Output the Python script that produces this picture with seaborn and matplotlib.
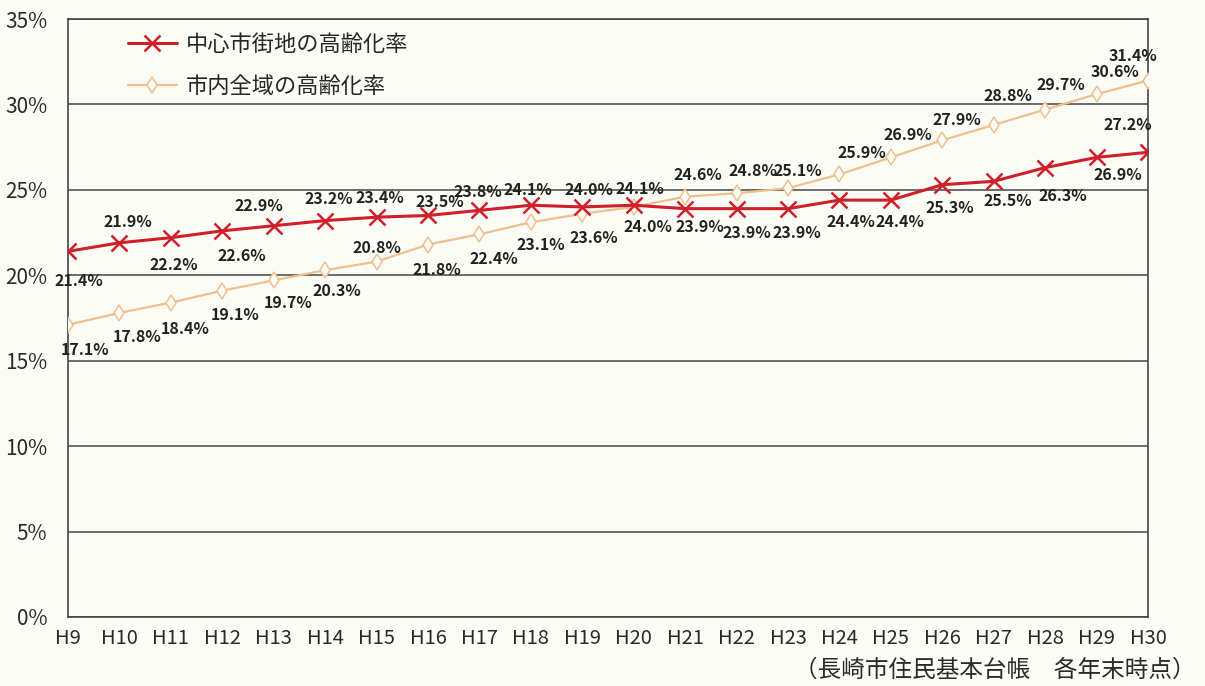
import matplotlib
matplotlib.use('Agg')

import matplotlib.pyplot as plt
from matplotlib.ticker import FuncFormatter
import seaborn as sns
import pandas as pd

# 年度（平成）
years = ["H9", "H10", "H11", "H12", "H13", "H14", "H15", "H16", "H17", "H18", "H19",
         "H20", "H21", "H22", "H23", "H24", "H25", "H26", "H27", "H28", "H29", "H30"]

# 中心市街地の高齢化率 (%)
center_rate = [21.4, 21.9, 22.2, 22.6, 22.9, 23.2, 23.4, 23.5, 23.8, 24.1, 24.0,
               24.1, 23.9, 23.9, 23.9, 24.4, 24.4, 25.3, 25.5, 26.3, 26.9, 27.2]

# 市内全域の高齢化率 (%)
city_rate = [17.1, 17.8, 18.4, 19.1, 19.7, 20.3, 20.8, 21.8, 22.4, 23.1, 23.6,
             24.0, 24.6, 24.8, 25.1, 25.9, 26.9, 27.9, 28.8, 29.7, 30.6, 31.4]

center_name = "中心市街地の高齢化率"
city_name = "市内全域の高齢化率"
note = "（長崎市住民基本台帳　各年末時点）"

# ラベル位置（点からのずれ, px, 下向きが正）
center_off = [(11, 30), (8, -21), (3, 27), (20, 25), (-15, -20), (4, -22), (3, -19),
              (12, -13), (-2, -18), (-3, -15), (7, -17), (6, -16), (15, 18), (10, 24),
              (9, 24), (12, 22), (9, 22), (8, 23), (14, 20), (18, 28), (21, 18), (-20, -27)]
city_off = [(17, 25), (18, 24), (14, 26), (13, 24), (14, 23), (12, 21), (0, -14),
            (9, 25), (14, 25), (10, 23), (12, 24), (14, 20), (13, -22), (16, -22),
            (10, -17), (22, -21), (17, -22), (15, -20), (14, -29), (16, -25), (18, -22), (-15, -25)]

RED = "#cf1f2a"
TAN = "#efbf8c"
BG = "#fcfcf7"
GRID = "#454545"

sns.set_theme(style="white")
plt.rcParams['font.family'] = ['Noto Sans CJK JP', 'DejaVu Sans']

df = pd.DataFrame({"x": range(len(years)), "center": center_rate, "city": city_rate})

fig, ax = plt.subplots(figsize=(12.05, 6.86), dpi=100)
fig.patch.set_facecolor(BG)
ax.set_facecolor(BG)
fig.subplots_adjust(left=0.0564, right=0.9527, bottom=0.1006, top=0.9723)

sns.lineplot(data=df, x="x", y="city", ax=ax, color=TAN, linewidth=1.6,
             marker="d", markersize=8.5, markerfacecolor=BG, markeredgecolor=TAN,
             markeredgewidth=1.1, label=city_name, zorder=3)
sns.lineplot(data=df, x="x", y="center", ax=ax, color=RED, linewidth=2.2,
             marker="x", markersize=12, markeredgecolor=RED, markeredgewidth=1.8,
             label=center_name, zorder=4)

ax.set_xlim(0, len(years) - 1)
ax.set_ylim(0, 35)
ax.set_xticks(range(len(years)))
ax.set_xticklabels(years)
ax.set_yticks(range(0, 36, 5))
ax.yaxis.set_major_formatter(FuncFormatter(lambda v, p: f"{v:.0f}%"))
ax.set_xlabel("")
ax.set_ylabel("")

ax.yaxis.grid(True, color=GRID, linewidth=1.1)
ax.set_axisbelow(True)
for s in ax.spines.values():
    s.set_color(GRID)
    s.set_linewidth(1.2)

ax.tick_params(axis="x", direction="in", length=4, width=1, color=GRID,
               labelsize=14.5, labelcolor="#2a2a2a", pad=8)
ax.tick_params(axis="y", length=0, labelsize=15, labelcolor="#2a2a2a", pad=15)

# データラベル
for i in range(len(years)):
    dx, dy = center_off[i]
    ax.annotate(f"{center_rate[i]:.1f}%", (i, center_rate[i]), xytext=(dx * 0.72, -dy * 0.72),
                textcoords="offset points", ha="center", va="center",
                fontsize=11.5, fontweight="bold", color="#222222", zorder=5)
    dx, dy = city_off[i]
    ax.annotate(f"{city_rate[i]:.1f}%", (i, city_rate[i]), xytext=(dx * 0.72, -dy * 0.72),
                textcoords="offset points", ha="center", va="center",
                fontsize=11.5, fontweight="bold", color="#222222", zorder=5)

lines = ax.get_lines()
handles = [lines[1], lines[0]]
ax.legend(handles, [center_name, city_name], loc="upper left",
          bbox_to_anchor=(0.0556, 0.977), frameon=False, borderpad=0,
          borderaxespad=0, fontsize=16, handlelength=2.2, handletextpad=0.4,
          labelspacing=0.85)

fig.text(0.992, 0.006, note, ha="right", va="bottom", fontsize=17, color="#2a2a2a")

fig.savefig("out.png", dpi=100, facecolor=BG)
